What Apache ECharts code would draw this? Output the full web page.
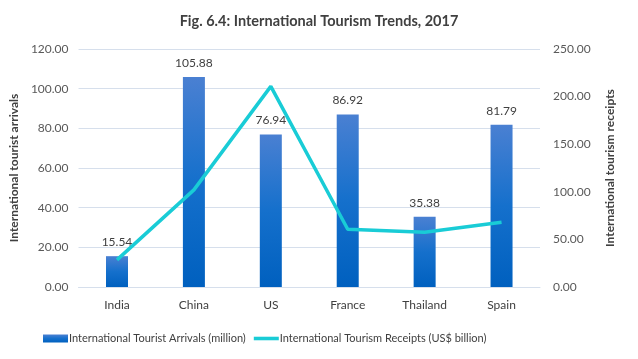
<!DOCTYPE html>
<html><head><meta charset="utf-8">
<script src="https://cdn.jsdelivr.net/npm/echarts@6/dist/echarts.min.js"></script>
<style>html,body{margin:0;padding:0;background:#fff}#c{width:638px;height:359px}</style>
</head><body><div id="c"></div>
<script>
var categories = ["India", "China", "US", "France", "Thailand", "Spain"];
var arrivals = [15.54, 105.88, 76.94, 86.92, 35.38, 81.79];
var receipts = [28.5, 102, 210.7, 60.7, 57.5, 68];
var leftTicks = [0, 120, 20];
var rightTicks = [0, 250, 50];

var FONT = "Lato, 'Liberation Sans', sans-serif";
var chart = echarts.init(document.getElementById('c'));
chart.setOption({
  animation: false,
  textStyle: {fontFamily: FONT},
  title: {
    text: "Fig. 6.4: International Tourism Trends, 2017",
    left: 'center', top: 9,
    textStyle: {fontFamily: FONT, fontSize: 14.5, fontWeight: 'bold', color: '#404040'}
  },
  grid: {left: 76, right: 98, top: 49, bottom: 72},
  legend: {
    left: 38, top: 328, itemGap: 8, itemWidth: 25, itemHeight: 8,
    textStyle: {fontFamily: FONT, fontSize: 11, color: '#404040', padding: [0,0,0,-4]},
    data: [{name: "International Tourist Arrivals (million)", icon: 'rect'},
           {name: "International Tourism Receipts (US$ billion)", icon: 'path://M0,0L28,0L28,4L0,4Z'}]
  },
  xAxis: {
    type: 'category', data: categories,
    axisLine: {show: true, lineStyle: {color: '#d6dfec'}},
    axisTick: {show: false},
    axisLabel: {fontFamily: FONT, fontSize: 12, color: '#404040', margin: 12}
  },
  yAxis: [{
    type: 'value', min: leftTicks[0], max: leftTicks[1], interval: leftTicks[2],
    name: "International tourist arrivals", nameLocation: 'middle', nameGap: 58, nameRotate: 90,
    nameTextStyle: {fontFamily: FONT, fontSize: 12, fontWeight: 'bold', color: '#404040'},
    axisLine: {show: false}, axisTick: {show: false},
    axisLabel: {fontFamily: FONT, fontSize: 12, color: '#595959', margin: 10, formatter: function(v){return v.toFixed(2);}},
    splitLine: {lineStyle: {color: '#d6dfec', width: 1}}
  }, {
    type: 'value', min: rightTicks[0], max: rightTicks[1], interval: rightTicks[2],
    name: "International tourism receipts", nameLocation: 'middle', nameGap: 64, nameRotate: 90,
    nameTextStyle: {fontFamily: FONT, fontSize: 12, fontWeight: 'bold', color: '#404040'},
    axisLine: {show: false}, axisTick: {show: false},
    axisLabel: {fontFamily: FONT, fontSize: 12, color: '#595959', margin: 13, formatter: function(v){return v.toFixed(2);}},
    splitLine: {show: false}
  }],
  series: [{
    name: "International Tourist Arrivals (million)", type: 'bar', data: arrivals, barWidth: 22,
    itemStyle: {color: new echarts.graphic.LinearGradient(0,0,0,1,[{offset:0,color:'#4a80d2'},{offset:0.5,color:'#1570cc'},{offset:1,color:'#0060bf'}])},
    label: {show: true, position: 'top', distance: 8, fontFamily: FONT, fontSize: 12, color: '#404040', formatter: function(p){return p.value.toFixed(2);}}
  }, {
    name: "International Tourism Receipts (US$ billion)", type: 'line', yAxisIndex: 1, data: receipts,
    symbol: 'none', lineStyle: {color: '#19ccd6', width: 3.5}, itemStyle: {color: '#19ccd6'}
  }]
});
</script></body></html>
